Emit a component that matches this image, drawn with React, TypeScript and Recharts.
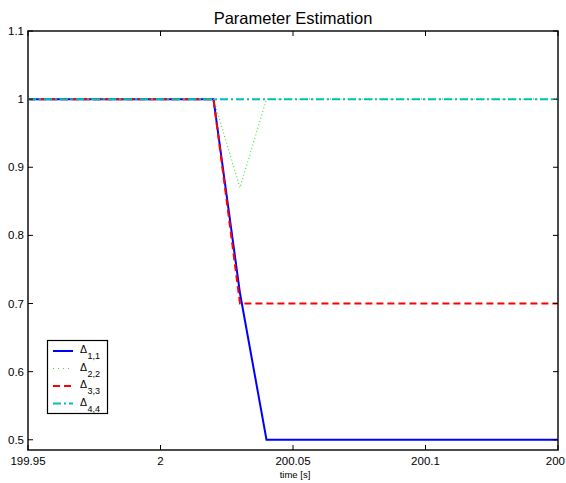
import React from 'react';
import { LineChart, Line, XAxis, YAxis, ReferenceArea } from 'recharts';

// ---- data ----
const timeS = [199.95, 200.02, 200.03, 200.04, 200.15];
const delta11 = [1, 1, 0.715, 0.5, 0.5];
const delta22 = [1, 1, 0.87, 1, 1];
const delta33 = [1, 1, 0.7, 0.7, 0.7];
const delta44 = [1, 1, 1, 1, 1];

const xTicks = [199.95, 200, 200.05, 200.1, 200.15];
const xTickLabels = ['199.95', '2', '200.05', '200.1', '200'];
const yTicks = [0.5, 0.6, 0.7, 0.8, 0.9, 1, 1.1];
const yTickLabels = ['0.5', '0.6', '0.7', '0.8', '0.9', '1', '1.1'];

const seriesKeys = ['d11', 'd22', 'd33', 'd44'];
const seriesSubs = ['1,1', '2,2', '3,3', '4,4'];

const chartTitle = 'Parameter Estimation';
const xLabel = 'time [s]';

// ---- styles ----
const W = 566;
const H = 483;
const PLOT_TOP = 31;
const PLOT_LEFT = 28;
const PLOT_RIGHT = 558;
const X_AXIS_H = 33;
const FONT = '"Liberation Sans", Arial, Helvetica, sans-serif';

const styles: Record<string, { stroke: string; width: number; dash?: string }> = {
  d11: { stroke: '#0000ff', width: 2 },
  d22: { stroke: '#33e033', width: 1.1, dash: '1 2.5' },
  d33: { stroke: '#ff0000', width: 2, dash: '7 4' },
  d44: { stroke: '#00bfbf', width: 2, dash: '8 3 2 3' },
};

const data = timeS.map((t, i) => ({
  t,
  d11: delta11[i],
  d22: delta22[i],
  d33: delta33[i],
  d44: delta44[i],
}));

const findIdx = (arr: number[], v: number) => arr.findIndex((a) => Math.abs(a - v) < 1e-9);

const XTick = (props: any) => {
  const { x, y, payload } = props;
  const i = findIdx(xTicks, payload.value);
  const last = i === xTicks.length - 1;
  return (
    <g>
      <line x1={x} x2={x} y1={y} y2={y - 5} stroke="#000" strokeWidth={1} />
      <line x1={x} x2={x} y1={PLOT_TOP} y2={PLOT_TOP + 5} stroke="#000" strokeWidth={1} />
      <text
        x={last ? W - 1 : x}
        y={y + 15}
        textAnchor={last ? 'end' : 'middle'}
        fontSize={11.5}
        fontFamily={FONT}
        fill="#000"
      >
        {i >= 0 ? xTickLabels[i] : ''}
      </text>
    </g>
  );
};

const YTick = (props: any) => {
  const { x, y, payload } = props;
  const i = findIdx(yTicks, payload.value);
  return (
    <g>
      <line x1={x} x2={x + 5} y1={y} y2={y} stroke="#000" strokeWidth={1} />
      <line x1={PLOT_RIGHT} x2={PLOT_RIGHT - 5} y1={y} y2={y} stroke="#000" strokeWidth={1} />
      <text x={x - 4} y={y + 4} textAnchor="end" fontSize={11.5} fontFamily={FONT} fill="#000">
        {i >= 0 ? yTickLabels[i] : ''}
      </text>
    </g>
  );
};

const Overlay = () => {
  const lx = 47.5;
  const ly = 340.5;
  const rows = [351, 368.5, 386, 403.5];
  return (
    <svg
      width={W}
      height={H}
      style={{ position: 'absolute', left: 0, top: 0, pointerEvents: 'none' }}
    >
      <text
        x={(PLOT_LEFT + PLOT_RIGHT) / 2}
        y={24}
        textAnchor="middle"
        fontSize={16.5}
        fontFamily={FONT}
        fill="#000"
      >
        {chartTitle}
      </text>
      <text x={295} y={478} textAnchor="middle" fontSize={9.5} fontFamily={FONT} fill="#000">
        {xLabel}
      </text>
      <rect x={lx} y={ly} width={60} height={73} fill="#fff" stroke="#000" strokeWidth={1.2} />
      {seriesKeys.map((k, i) => {
        const s = styles[k];
        const yc = rows[i];
        return (
          <g key={k}>
            <line
              x1={53}
              x2={73}
              y1={yc}
              y2={yc}
              stroke={s.stroke}
              strokeWidth={s.width}
              strokeDasharray={k === 'd22' ? '1 4' : s.dash}
            />
            <text x={80} y={yc + 2} fontSize={10.5} fontFamily={FONT} fill="#000">
              Δ
            </text>
            <text x={87.5} y={yc + 8} fontSize={9} fontFamily={FONT} fill="#000">
              {seriesSubs[i]}
            </text>
          </g>
        );
      })}
    </svg>
  );
};

export default function App() {
  return (
    <div style={{ position: 'absolute', left: 0, top: 0, width: W, height: H, background: '#fff' }}>
      <LineChart
        width={W}
        height={H}
        data={data}
        margin={{ top: PLOT_TOP, right: W - PLOT_RIGHT, left: 0, bottom: 0 }}
      >
        <XAxis
          dataKey="t"
          type="number"
          domain={[199.95, 200.15]}
          ticks={xTicks}
          allowDataOverflow
          height={X_AXIS_H}
          axisLine={false}
          tickLine={false}
          tickSize={0}
          tickMargin={0}
          tick={<XTick />}
          interval={0}
        />
        <YAxis
          type="number"
          domain={[0.485, 1.1]}
          ticks={yTicks}
          allowDataOverflow
          width={PLOT_LEFT}
          axisLine={false}
          tickLine={false}
          tickSize={0}
          tickMargin={0}
          tick={<YTick />}
          interval={0}
        />
        {seriesKeys.map((k) => (
          <Line
            key={k}
            type="linear"
            dataKey={k}
            stroke={styles[k].stroke}
            strokeWidth={styles[k].width}
            strokeDasharray={styles[k].dash}
            dot={false}
            activeDot={false}
            isAnimationActive={false}
          />
        ))}
        <ReferenceArea
          x1={199.95}
          x2={200.15}
          y1={0.485}
          y2={1.1}
          fill="none"
          fillOpacity={0}
          stroke="#111"
          strokeWidth={1.5}
          ifOverflow="visible"
        />
      </LineChart>
      <Overlay />
    </div>
  );
}
